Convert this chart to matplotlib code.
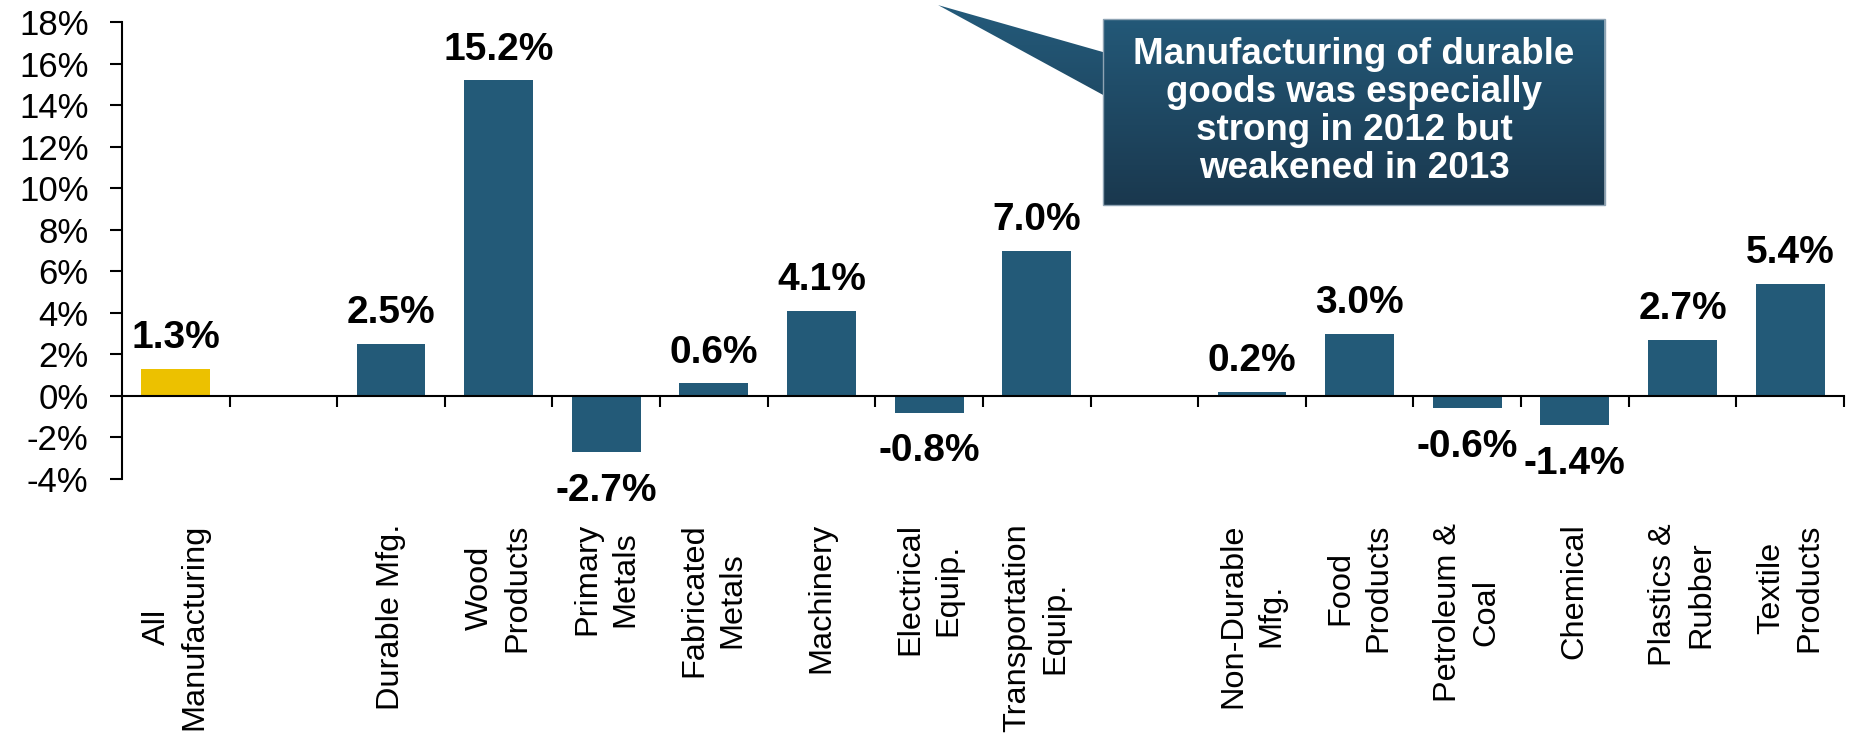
import numpy as np
import matplotlib
matplotlib.use('Agg')
import matplotlib.pyplot as plt
from matplotlib.patches import Rectangle, PathPatch
from matplotlib.path import Path
import matplotlib.transforms as mtransforms

plt.rcParams['font.family'] = ['Liberation Sans', 'DejaVu Sans']

# data
categories = ['All\nManufacturing', '', 'Durable Mfg.', 'Wood\nProducts', 'Primary\nMetals',
              'Fabricated\nMetals', 'Machinery', 'Electrical\nEquip.', 'Transportation\nEquip.', '',
              'Non-Durable\nMfg.', 'Food\nProducts', 'Petroleum &\nCoal', 'Chemical',
              'Plastics &\nRubber', 'Textile\nProducts']
values = [1.3, np.nan, 2.5, 15.2, -2.7, 0.6, 4.1, -0.8, 7.0, np.nan,
          0.2, 3.0, -0.6, -1.4, 2.7, 5.4]
yticks = list(range(-4, 19, 2))
callout_text = 'Manufacturing of durable\ngoods was especially\nstrong in 2012 but\nweakened in 2013'

blue = '#235a78'
yellow = '#ecc100'

fig = plt.figure(figsize=(18.5, 7.34), dpi=100)
ax = fig.add_axes([0.0659, 0.3474, 0.9308, 0.6226])

x = np.arange(len(categories))
colors = [yellow] + [blue] * (len(categories) - 1)
ax.bar(x, values, width=0.64, color=colors, zorder=2)

# value labels
for xi, v in zip(x, values):
    if np.isnan(v):
        continue
    if v >= 0:
        ax.annotate(f'{v:.1f}%', (xi, v), xytext=(0, 9), textcoords='offset points',
                    ha='center', va='bottom', fontsize=28, fontweight='bold')
    else:
        ax.annotate(f'{v:.1f}%', (xi, v), xytext=(0, -15), textcoords='offset points',
                    ha='center', va='top', fontsize=28, fontweight='bold')

ax.set_xlim(-0.5, len(categories) - 0.5)
ax.set_ylim(-4, 18)
ax.set_yticks(yticks)
ax.set_yticklabels([f'{t}%' for t in yticks])

# spines / ticks
for s in ['top', 'right']:
    ax.spines[s].set_visible(False)
ax.spines['bottom'].set_position(('data', 0))
ax.spines['left'].set_linewidth(1.5)
ax.spines['bottom'].set_linewidth(1.5)
ax.set_xticks(np.arange(0.5, len(categories), 1.0))
ax.set_xticklabels([])
ax.tick_params(axis='x', direction='out', length=8, width=1.5)
ax.tick_params(axis='y', direction='out', length=9, width=1.5, labelsize=25, pad=15)

# category labels below the plot
trans = mtransforms.blended_transform_factory(ax.transData, ax.transAxes)
for xi, lab in zip(x, categories):
    if lab:
        ax.text(xi, -0.097, lab, transform=trans, rotation=90, ha='center', va='top',
                multialignment='center', fontsize=23.4, linespacing=1.35)

# callout box with pointer
bx0, bx1, by0, by1 = 0.570, 0.861, 0.5996, 1.0066
verts = [(bx0, by1), (bx1, by1), (bx1, by0), (bx0, by0), (bx0, 0.840),
         (0.474, 1.037), (bx0, 0.934), (bx0, by1)]
codes = [Path.MOVETO] + [Path.LINETO] * 6 + [Path.CLOSEPOLY]
shape = PathPatch(Path(verts, codes), transform=ax.transAxes, facecolor='none',
                  edgecolor='none', clip_on=False)
ax.add_patch(shape)
grad = np.linspace(0, 1, 256).reshape(-1, 1)
cmap = matplotlib.colors.LinearSegmentedColormap.from_list('cg', ['#1a384e', '#245b7b'])
im = ax.imshow(grad, cmap=cmap, origin='lower', aspect='auto',
               extent=[0.474, bx1, by0, 1.037], transform=ax.transAxes, zorder=3)
im.set_clip_box(fig.bbox)
im.set_clip_path(shape)
ax.add_patch(Rectangle((bx0, by0), bx1 - bx0, by1 - by0, transform=ax.transAxes,
                       facecolor='none', edgecolor='#8ea3b3', linewidth=1, clip_on=False, zorder=4))
ax.text((bx0 + bx1) / 2, 0.804, callout_text, transform=ax.transAxes, ha='center', va='center',
        multialignment='center', color='white', fontsize=26.5, fontweight='bold',
        linespacing=1.12, zorder=5)

ax.set_xlim(-0.5, len(categories) - 0.5)
ax.set_ylim(-4, 18)

fig.savefig('out.png', dpi=100)
